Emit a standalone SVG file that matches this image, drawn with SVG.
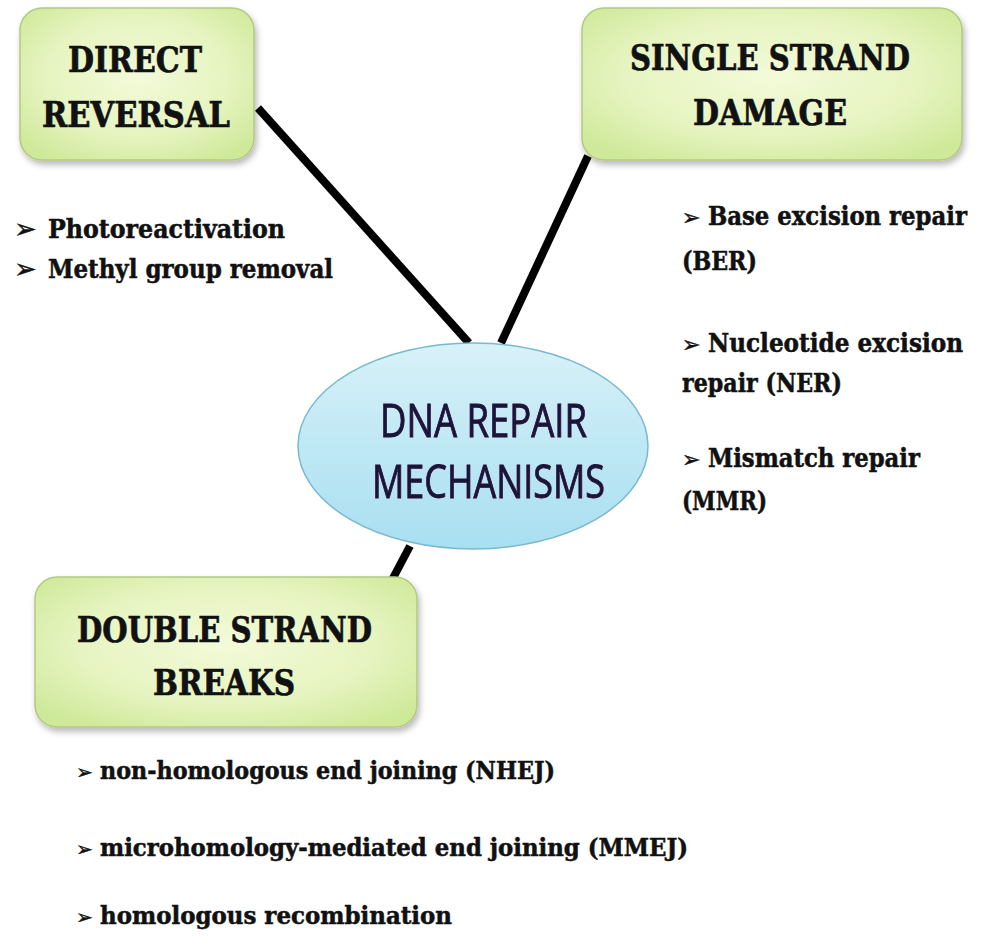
<svg xmlns="http://www.w3.org/2000/svg" width="986" height="947" viewBox="0 0 986 947">
<defs>
<radialGradient id="gBox" cx="50%" cy="45%" r="65%">
<stop offset="0" stop-color="#f3fad9"/>
<stop offset="0.6" stop-color="#e6f4c0"/>
<stop offset="1" stop-color="#cfe99a"/>
</radialGradient>
<linearGradient id="gEll" x1="0" y1="0" x2="0" y2="1">
<stop offset="0" stop-color="#d8f1f8"/>
<stop offset="0.5" stop-color="#bfe8f5"/>
<stop offset="1" stop-color="#a9dff1"/>
</linearGradient>
<filter id="sh" x="-10%" y="-10%" width="125%" height="130%">
<feDropShadow dx="2" dy="4" stdDeviation="3" flood-color="#000" flood-opacity="0.28"/>
</filter>
<filter id="glow" x="-10%" y="-20%" width="120%" height="140%">
<feGaussianBlur in="SourceAlpha" stdDeviation="1.2"/>
<feFlood flood-color="#b0408a" flood-opacity="0.35"/>
<feComposite operator="in" in2="SourceAlpha"/>
<feMerge><feMergeNode/><feMergeNode in="SourceGraphic"/></feMerge>
</filter>
</defs>
<style>
.box{fill:url(#gBox);stroke:#b3c982;stroke-width:1.5;filter:url(#sh)}
.title{font-family:"DejaVu Serif","Liberation Serif",serif;font-weight:bold;font-size:36px;fill:#111;stroke:#111;stroke-width:0.7;text-anchor:middle}
.item{font-family:"DejaVu Serif Condensed","DejaVu Serif","Liberation Serif",serif;font-weight:bold;fill:#111;stroke:#111;stroke-width:0.5}
.arr{font-family:"DejaVu Sans",sans-serif;font-weight:bold;fill:#111;stroke:#111;stroke-width:0.4}
.center{font-family:"Open Sans","Liberation Sans",sans-serif;font-size:46px;fill:#17173a;stroke:#17173a;stroke-width:0.9}
.conn{stroke:#000;stroke-width:8;stroke-linecap:butt;fill:none}
</style>
<rect width="986" height="947" fill="#ffffff"/>
<g id="connectors">
<line class="conn" x1="258" y1="108" x2="469" y2="343"/>
<line class="conn" x1="588" y1="156" x2="501" y2="343"/>
<line class="conn" x1="410" y1="546" x2="392" y2="580"/>
</g>
<g id="center">
<ellipse cx="473" cy="446" rx="175" ry="103" fill="url(#gEll)" stroke="#7ab8d0" stroke-width="1.5"/>
<text class="center" x="380" y="437" textLength="207" lengthAdjust="spacingAndGlyphs" filter="url(#glow)">DNA REPAIR</text>
<text class="center" x="372" y="498" textLength="233" lengthAdjust="spacingAndGlyphs" filter="url(#glow)">MECHANISMS</text>
</g>
<g id="direct-reversal">
<rect class="box" x="20" y="8" width="234" height="152" rx="22"/>
<text class="title" x="135" y="72" textLength="134" lengthAdjust="spacingAndGlyphs">DIRECT</text>
<text class="title" x="136" y="127" textLength="188" lengthAdjust="spacingAndGlyphs">REVERSAL</text>
</g>
<g id="direct-reversal-items">
<text class="arr" x="14" y="238" font-size="27">➢</text>
<text class="item" x="48" y="238" font-size="26" textLength="237" lengthAdjust="spacingAndGlyphs">Photoreactivation</text>
<text class="arr" x="14" y="278" font-size="27">➢</text>
<text class="item" x="48" y="278" font-size="26" textLength="285" lengthAdjust="spacingAndGlyphs">Methyl group removal</text>
</g>
<g id="single-strand">
<rect class="box" x="582" y="8" width="380" height="152" rx="22"/>
<text class="title" x="770" y="70" font-size="34" textLength="280" lengthAdjust="spacingAndGlyphs">SINGLE STRAND</text>
<text class="title" x="770" y="125" textLength="154" lengthAdjust="spacingAndGlyphs">DAMAGE</text>
</g>
<g id="single-strand-items">
<text class="arr" x="682" y="225" font-size="22">➢</text>
<text class="item" x="708" y="225" font-size="26" textLength="259" lengthAdjust="spacingAndGlyphs">Base excision repair</text>
<text class="item" x="682" y="270" font-size="26" textLength="75" lengthAdjust="spacingAndGlyphs">(BER)</text>
<text class="arr" x="682" y="352" font-size="22">➢</text>
<text class="item" x="708" y="352" font-size="26" textLength="255" lengthAdjust="spacingAndGlyphs">Nucleotide excision</text>
<text class="item" x="682" y="392" font-size="26" textLength="160" lengthAdjust="spacingAndGlyphs">repair (NER)</text>
<text class="arr" x="682" y="467" font-size="22">➢</text>
<text class="item" x="708" y="467" font-size="26" textLength="212" lengthAdjust="spacingAndGlyphs">Mismatch repair</text>
<text class="item" x="682" y="510" font-size="26" textLength="85" lengthAdjust="spacingAndGlyphs">(MMR)</text>
</g>
<g id="double-strand">
<rect class="box" x="35" y="577" width="382" height="150" rx="22"/>
<text class="title" x="224.5" y="642" textLength="295" lengthAdjust="spacingAndGlyphs">DOUBLE STRAND</text>
<text class="title" x="224" y="695" textLength="142" lengthAdjust="spacingAndGlyphs">BREAKS</text>
</g>
<g id="double-strand-items">
<text class="arr" x="76" y="779" font-size="20">➢</text>
<text class="item" x="100" y="779" font-size="25" textLength="455" lengthAdjust="spacingAndGlyphs">non-homologous end joining (NHEJ)</text>
<text class="arr" x="76" y="856" font-size="20">➢</text>
<text class="item" x="100" y="856" font-size="25" textLength="588" lengthAdjust="spacingAndGlyphs">microhomology-mediated end joining (MMEJ)</text>
<text class="arr" x="76" y="924" font-size="20">➢</text>
<text class="item" x="100" y="924" font-size="25" textLength="352" lengthAdjust="spacingAndGlyphs">homologous recombination</text>
</g>
</svg>
